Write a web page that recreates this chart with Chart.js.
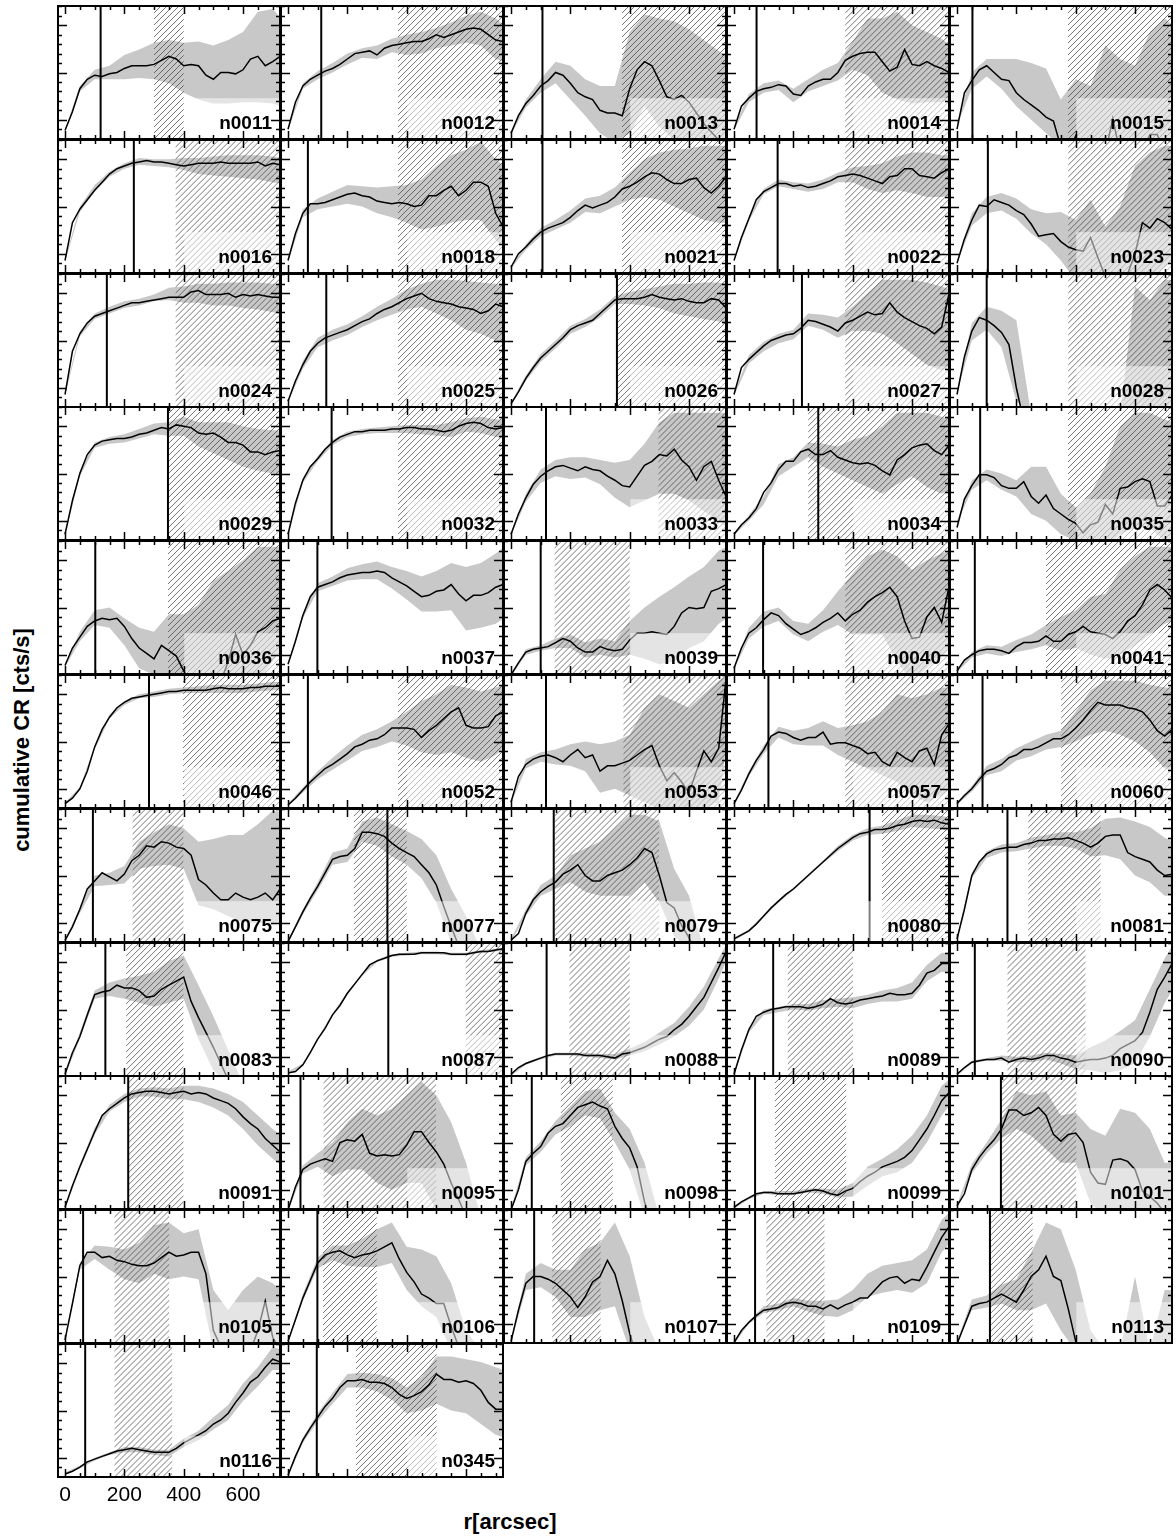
<!DOCTYPE html>
<html><head><meta charset="utf-8">
<script src="https://cdn.jsdelivr.net/npm/chart.js@4.4.1/dist/chart.umd.min.js"></script>
<style>
html,body{margin:0;padding:0;background:#fff;}
#wrap{position:relative;width:1176px;height:1537px;background:#fff;overflow:hidden;}
#wrap canvas{position:absolute;}
.t{position:absolute;font-family:"Liberation Sans",Arial,sans-serif;font-weight:bold;font-size:22px;color:#000;white-space:nowrap;}
</style></head><body><div id="wrap"></div>
<script>
// ---------- data ----------
const PANELS = ['n0011','n0012','n0013','n0014','n0015',
 'n0016','n0018','n0021','n0022','n0023',
 'n0024','n0025','n0026','n0027','n0028',
 'n0029','n0032','n0033','n0034','n0035',
 'n0036','n0037','n0039','n0040','n0041',
 'n0046','n0052','n0053','n0057','n0060',
 'n0075','n0077','n0079','n0080','n0081',
 'n0083','n0087','n0088','n0089','n0090',
 'n0091','n0095','n0098','n0099','n0101',
 'n0105','n0106','n0107','n0109','n0113',
 'n0116','n0345'];
// radius grid of the curves and of the error band [arcsec]
const R = [0,25,50,75,100,125,150,175,200,225,250,275,300,325,350,375,400,425,450,475,500,525,550,575,600,625,650,675,700,725];
const BR = [0,50,100,150,200,250,300,350,400,450,500,550,600,650,700,728];
// vertical marker radius per panel
const VLINE = [120,112,106,76,52, 232,67,106,147,104, 141,129,357,229,100, 347,147,118,284,78,
 102,99,100,98,60, 283,67,118,116,86, 94,335,144,457,170, 136,338,120,132,60,
 213,42,70,71,148, 61,99,78,71,111, 68,97];
// hatched background interval per panel (null = none)
const HATCH_FROM = [300,371,374,375,374, 373,371,374,375,375, 373,371,357,375,375, 347,371,497,250,374,
 347,null,147,375,300, 398,371,379,375,351, 228,222,147,499,240, 206,599,197,181,170,
 213,120,168,138,150, 167,118,139,109,114, 167,229];
const HATCH_TO = [400,728,728,728,728, 728,728,728,728,728, 728,728,728,728,728, 728,728,728,728,728,
 728,null,400,728,728, 728,728,728,728,728, 399,400,499,728,484, 399,728,400,401,433,
 399,499,343,378,402, 351,299,302,305,255, 361,501];
// cumulative count rate, in % of each panel's y range, at R
const CURVE_Y = [
 [7,21,38,45,48,47,49,50,53,55,55,55,56,59,62,60,55,56,55,48,45,50,50,49,52,60,62,55,58,62],
 [8,28,40,45,48,51,53,56,60,64,65,66,63,68,70,71,72,73,73,75,78,76,78,80,82,83,82,78,74,73],
 [5,18,27,33,40,44,50,48,42,35,32,30,22,20,20,18,38,52,58,55,44,32,30,33,28,20,12,6,0,-5],
 [8,25,31,36,38,39,41,40,34,33,40,43,45,45,50,59,62,64,65,65,58,51,54,67,56,55,58,55,53,50],
 [8,35,44,52,55,50,45,44,35,30,26,22,17,14,-5,-10,3,-10,-10,-10,-10,16,-10,-10,-10,-10,4,4,-10,-10],
 [10,38,48,55,62,68,74,78,80,82,83,84,83,83,82,81,80,81,82,82,82,83,82,82,82,82,83,80,82,81],
 [10,30,45,52,52,53,55,57,59,60,58,57,54,53,52,53,52,50,51,58,58,62,65,58,62,68,68,65,45,35],
 [5,15,20,26,31,34,36,38,42,47,51,49,51,53,57,63,65,68,72,75,74,70,67,67,70,71,64,60,65,72],
 [10,27,41,55,61,64,67,67,65,66,64,65,67,69,72,73,74,73,71,69,67,72,73,78,78,73,72,71,75,78],
 [8,26,40,51,50,55,53,51,47,44,37,28,29,30,24,20,18,17,27,12,-2,-5,-5,0,15,38,34,41,38,33],
 [10,42,55,63,68,70,72,74,76,78,78,79,80,81,82,82,82,86,87,84,84,84,85,82,84,83,84,83,82,82],
 [5,20,32,42,48,52,54,56,58,61,64,66,70,73,75,78,81,83,85,81,79,78,77,75,74,73,70,72,77,75],
 [3,12,22,30,37,42,47,52,58,61,63,65,70,75,80,81,81,81,82,84,82,81,80,81,79,78,78,81,80,74],
 [10,30,36,41,46,50,52,54,55,59,65,64,62,60,57,63,65,68,71,69,70,78,71,67,64,61,59,55,60,85],
 [10,38,57,67,65,61,56,47,15,-10,-10,-10,-10,-10,-10,-10,-10,-10,-10,-10,-10,-10,-10,-10,-10,-10,-10,-10,-10,-10],
 [5,30,50,64,71,74,75,76,76,77,79,80,82,84,83,86,85,84,80,79,80,77,73,73,71,66,66,64,66,67],
 [5,28,45,55,61,68,73,77,79,81,81,82,82,82,83,83,84,84,83,83,82,81,82,85,87,88,87,84,83,84],
 [5,20,32,42,48,52,55,56,54,52,55,53,52,48,45,41,40,48,56,59,64,63,68,60,55,45,55,59,45,33],
 [5,12,17,24,36,43,53,59,59,66,68,64,64,67,62,60,58,57,58,56,52,49,60,64,69,71,72,67,64,71],
 [10,31,41,49,49,47,41,39,39,44,33,28,34,24,20,16,13,6,12,14,27,20,39,40,44,46,44,26,26,34],
 [7,20,28,36,40,42,41,42,36,27,20,16,12,22,18,14,3,-5,-5,-5,-5,-5,10,30,15,22,32,35,40,42],
 [8,25,44,58,65,67,69,72,74,75,76,76,77,76,72,69,66,62,58,59,62,63,67,60,55,59,59,61,65,67],
 [0,9,17,19,20,21,24,27,25,20,17,17,21,19,18,19,26,31,31,32,31,30,36,46,50,49,50,62,64,67],
 [5,20,31,35,41,46,44,38,34,30,32,35,39,42,46,40,45,48,54,58,61,65,58,40,27,28,43,50,39,66],
 [3,11,15,18,19,19,18,16,21,24,24,25,29,25,25,30,32,36,32,31,30,27,32,40,44,52,63,67,63,57],
 [4,8,15,28,46,59,68,75,79,82,83,84,85,86,87,87,88,88,88,88,89,90,89,89,89,90,90,91,91,91],
 [3,8,14,20,25,30,33,37,41,46,48,51,52,55,60,60,60,59,53,58,62,67,72,75,62,60,60,61,69,72],
 [5,24,33,37,39,40,38,35,40,44,38,40,28,32,32,34,36,40,44,47,32,21,27,20,12,28,43,35,45,97],
 [4,14,26,36,44,54,57,56,53,51,53,53,57,48,49,49,47,45,41,42,35,32,42,38,35,43,45,33,55,63],
 [4,10,15,22,28,30,33,38,40,44,44,46,49,52,52,55,60,66,73,79,77,77,77,75,74,72,66,58,54,59],
 [2,12,25,40,46,52,49,46,51,61,65,72,71,75,74,71,70,65,47,43,37,32,32,37,34,32,34,37,32,40],
 [1,12,23,33,42,52,62,64,65,70,82,82,81,79,74,70,67,64,58,52,43,27,12,-2,-10,-10,-10,-10,-10,-10],
 [2,7,22,32,38,42,45,51,54,58,50,46,46,50,52,54,58,63,70,67,50,30,26,13,4,-8,-10,-10,-10,-10],
 [3,6,9,14,20,26,31,36,40,45,50,55,60,65,70,74,78,81,82,84,84,85,87,88,90,91,90,91,89,88],
 [3,25,50,60,66,69,70,71,71,73,74,76,76,77,77,78,76,74,71,74,79,80,80,67,64,62,60,54,50,51],
 [2,18,30,46,61,63,64,68,66,66,64,59,60,65,68,71,74,56,44,33,22,10,-2,-10,-10,-10,-10,-10,-10,-10],
 [3,4,9,18,28,36,46,53,62,69,76,83,86,88,90,91,91,91,92,92,92,92,91,91,91,92,93,93,94,95],
 [2,7,10,12,14,16,17,17,17,17,16,16,16,15,14,17,18,20,22,25,28,30,35,39,45,52,59,70,81,93],
 [2,20,35,45,48,50,51,52,52,52,51,52,54,58,55,54,55,57,58,59,60,62,61,61,62,68,77,79,84,84],
 [2,7,11,12,13,13,14,11,13,14,13,14,16,16,14,13,11,12,13,13,14,16,21,24,27,33,48,65,74,84],
 [2,18,32,45,58,70,75,79,83,86,87,88,88,87,86,87,88,86,87,86,83,81,79,75,69,64,60,53,48,43],
 [0,17,30,34,36,38,36,50,52,51,56,42,40,41,40,41,48,58,58,50,43,34,20,8,-5,-10,-10,-10,-10,-10],
 [0,15,36,42,47,57,62,64,70,76,78,80,77,75,62,53,46,32,6,-10,-10,-10,-10,-10,-10,-10,-10,-10,-10,-10],
 [2,6,9,12,13,13,12,12,12,13,14,15,14,12,11,14,16,21,25,28,32,34,36,39,44,52,60,70,81,87],
 [3,12,30,39,46,52,60,74,74,70,72,76,70,56,51,56,57,50,28,20,19,37,38,36,30,14,10,5,-2,-5],
 [3,30,58,68,68,64,65,62,61,59,58,58,60,64,68,65,66,68,68,52,10,-2,-5,-5,-5,-5,10,32,5,-5],
 [2,18,34,47,60,66,68,69,66,64,66,67,69,72,75,63,53,46,37,34,30,30,13,-2,-10,-10,-10,-10,-10,-10],
 [2,25,45,50,50,48,45,40,35,27,35,46,50,62,52,32,8,-10,-10,-10,-10,-10,-10,-10,-10,-10,-10,-10,-10,-10],
 [1,10,16,21,25,26,27,30,31,30,28,28,26,29,26,29,31,34,34,40,46,49,50,45,48,47,57,68,79,87],
 [0,14,28,30,31,34,37,34,31,40,50,55,65,50,47,26,2,-10,-10,-10,-10,-10,-10,-10,-10,-10,-10,-10,-10,-10],
 [3,5,8,12,14,16,18,20,21,22,21,20,19,19,19,22,26,29,32,35,40,43,48,56,63,71,75,82,88,86],
 [2,16,28,37,45,53,59,67,72,72,73,71,71,70,67,62,59,61,64,69,77,73,73,71,72,70,65,56,51,51]
];
// upper edge of the error band at BR
const BAND_HI = [
 [8,40,52,55,63,67,72,74,72,73,70,74,80,95,97,90],
 [9,42,51,57,64,68,70,75,78,80,83,87,92,95,90,85],
 [6,30,45,58,55,45,40,40,80,93,90,88,82,74,66,62],
 [9,34,42,44,38,45,52,57,73,90,90,95,85,80,75,70],
 [13,50,60,60,60,57,53,30,45,40,70,60,55,80,90,85],
 [11,50,66,76,82,86,85,85,86,86,87,88,88,88,87,86],
 [11,48,56,61,66,65,64,65,66,70,80,88,92,98,85,80],
 [6,22,34,40,47,56,58,64,75,85,90,92,93,95,95,95],
 [11,43,63,70,68,67,70,75,79,80,82,87,90,90,88,88],
 [10,45,57,60,56,48,45,46,40,55,35,50,80,90,95,95],
 [11,57,70,75,79,81,84,89,90,92,92,93,93,93,92,92],
 [6,35,52,58,62,68,75,81,88,92,95,95,94,93,92,90],
 [4,24,40,50,61,66,73,83,86,88,90,92,92,93,93,92],
 [11,39,49,55,58,70,69,67,75,85,95,95,95,93,90,88],
 [13,63,75,72,65,-5,-5,-5,-5,-5,-5,-5,90,80,95,95],
 [6,52,73,77,79,83,87,88,92,88,88,88,85,83,82,82],
 [6,47,63,75,81,83,84,85,86,86,86,88,91,92,90,90],
 [6,35,53,60,62,62,60,58,60,72,88,95,95,95,95,95],
 [6,19,33,57,62,73,72,70,75,78,85,95,95,95,92,90],
 [15,45,53,50,45,55,55,35,25,35,55,85,95,95,90,88],
 [8,32,48,50,42,35,32,45,45,52,70,77,85,95,95,95],
 [9,46,68,73,79,82,84,80,77,73,77,83,80,83,90,95],
 [1,19,22,27,30,24,27,25,40,50,58,65,73,80,92,95],
 [6,35,47,50,40,38,48,62,75,88,93,88,78,85,90,92],
 [4,17,22,21,26,30,37,43,48,58,60,78,88,95,95,95],
 [5,16,47,70,80,85,87,89,90,91,92,92,92,93,94,94],
 [4,16,28,38,47,55,59,65,72,80,85,92,90,87,90,92],
 [6,37,42,44,48,50,48,50,55,75,85,80,75,85,95,99],
 [5,28,47,61,58,60,65,60,62,65,72,85,82,85,90,90],
 [5,17,32,37,45,50,55,58,72,88,95,95,95,92,90,90],
 [3,26,50,52,57,75,82,88,85,75,77,80,80,88,98,97],
 [2,25,45,67,70,90,93,88,83,77,65,40,20,-5,-5,-5],
 [3,25,43,50,65,70,75,85,95,95,90,55,35,-5,-5,-5],
 [4,10,21,32,41,51,61,72,80,85,87,91,95,95,94,93],
 [4,52,68,73,74,78,80,82,82,85,92,93,90,86,78,75],
 [3,33,64,70,73,75,78,86,90,68,45,20,-5,-5,-5,-5],
 [4,10,29,47,63,77,87,91,92,93,93,92,92,94,95,96],
 [3,11,15,18,18,18,17,17,21,26,33,40,52,67,88,99],
 [3,37,50,52,54,54,57,58,59,61,64,66,70,83,92,92],
 [3,12,14,16,15,16,18,17,16,22,27,34,42,65,88,98],
 [3,34,61,78,86,90,91,90,92,92,90,86,80,70,60,55],
 [1,33,42,50,65,75,70,75,85,95,85,65,35,-5,-5,-5],
 [1,39,51,66,77,88,90,72,60,35,-5,-5,-5,-5,-5,-5],
 [3,10,14,14,14,16,16,15,20,32,38,45,55,70,92,97],
 [4,34,50,67,88,85,88,70,72,60,55,75,72,60,35,35],
 [4,60,73,72,70,75,88,90,82,85,40,25,40,50,45,40],
 [3,37,64,73,73,78,85,90,72,70,65,45,10,-5,-5,-5],
 [3,52,60,55,55,70,75,90,65,20,-5,-5,-5,-5,-5,-5],
 [2,17,28,30,34,32,32,33,40,52,58,60,62,70,92,98],
 [2,33,36,44,48,68,90,85,55,10,-5,-5,50,-5,40,40],
 [4,9,15,19,23,23,21,21,29,35,45,54,70,82,97,95],
 [3,30,48,63,77,78,77,74,67,75,90,90,88,86,82,80]
];
// lower edge of the error band at BR
const BAND_LO = [
 [6,36,45,45,45,46,45,42,35,30,27,27,28,28,27,25],
 [7,38,45,50,56,61,60,65,63,64,68,70,72,70,60,58],
 [4,24,35,42,30,18,5,-2,5,25,10,0,-5,-5,-5,-5],
 [7,28,35,37,28,36,40,44,52,48,35,30,27,28,28,30],
 [11,38,47,38,25,15,5,-5,-5,-5,-5,-5,-5,-5,-5,-5],
 [9,46,61,72,78,81,80,79,77,74,73,72,71,70,68,67],
 [9,42,48,50,52,50,45,42,38,33,35,38,40,40,25,20],
 [4,18,28,33,38,46,45,50,55,57,55,50,45,40,38,38],
 [9,39,59,65,63,61,63,68,68,63,60,62,60,57,57,58],
 [8,36,45,47,41,30,22,10,-5,-5,-5,-5,-5,-5,5,10],
 [9,53,66,70,74,76,79,80,78,78,76,76,74,73,71,70],
 [4,29,45,50,54,60,65,69,73,75,70,65,58,55,50,48],
 [2,20,34,44,55,60,67,77,77,76,74,70,68,66,64,62],
 [9,33,42,48,51,61,58,52,57,57,55,48,40,32,28,30],
 [11,50,58,45,5,-5,-5,-5,-5,-5,-5,-5,0,-5,-5,-5],
 [4,48,69,72,73,76,79,78,78,70,65,60,55,52,50,50],
 [4,43,59,71,77,79,80,80,80,79,78,77,81,80,77,76],
 [4,29,43,48,46,47,42,32,25,30,35,35,30,22,15,10],
 [4,15,27,48,55,62,55,50,45,40,35,42,48,40,35,38],
 [13,38,45,38,33,20,15,5,0,-5,-5,5,10,10,0,0],
 [6,25,37,35,22,5,0,-5,-5,-5,-5,-5,-5,-5,10,20],
 [7,42,62,66,70,71,71,64,56,47,47,48,33,35,38,42],
 [-1,15,18,20,20,13,15,13,15,12,8,10,20,25,38,42],
 [4,27,36,40,30,25,32,37,30,30,30,10,-5,5,15,20],
 [2,13,16,14,17,19,22,18,20,15,12,15,22,30,38,40],
 [3,14,44,67,77,82,83,85,86,86,86,86,86,87,88,88],
 [2,12,22,29,36,43,46,50,47,42,40,42,38,35,40,45],
 [4,30,35,33,32,28,12,15,10,5,0,-5,-5,0,5,50],
 [3,24,41,53,48,47,47,40,35,30,25,20,10,5,10,15],
 [3,13,25,28,36,39,44,46,50,55,58,55,50,42,30,28],
 [1,22,42,43,44,55,57,58,55,28,25,20,15,15,15,15],
 [0,21,39,58,60,75,72,64,58,48,30,0,-5,-5,-5,-5],
 [1,20,35,40,45,38,35,35,35,45,30,5,-5,-5,-5,-5],
 [2,8,19,30,39,49,59,68,76,80,81,83,86,85,84,83],
 [2,48,63,67,68,70,72,72,70,64,65,62,50,45,35,35],
 [1,28,58,60,58,55,52,55,58,28,5,-5,-5,-5,-5,-5],
 [2,8,27,45,61,75,85,89,90,91,91,90,90,92,93,94],
 [1,9,13,16,16,15,14,13,16,19,24,30,38,50,73,87],
 [1,33,46,48,50,49,51,52,51,54,56,56,58,71,78,77],
 [1,10,12,12,11,11,13,10,6,5,3,5,10,30,55,65],
 [1,30,56,73,80,84,84,82,82,80,76,70,60,48,38,33],
 [-1,27,32,25,30,30,20,15,20,20,0,-5,-5,-5,-5,-5],
 [-1,33,43,56,62,70,68,50,30,-5,-5,-5,-5,-5,-5,-5],
 [1,8,12,11,11,13,12,9,10,18,25,28,35,50,70,78],
 [2,27,42,53,60,55,45,35,35,5,-5,-5,-5,-5,-5,-5],
 [2,55,63,55,48,45,52,48,50,48,-5,-5,-5,-5,-5,-5],
 [1,32,56,62,58,57,57,60,40,28,20,-5,-5,-5,-5,-5],
 [1,40,42,35,20,20,25,28,-5,-5,-5,-5,-5,-5,-5,-5],
 [0,15,23,25,28,24,21,20,25,35,38,40,38,45,68,75],
 [0,25,27,30,25,25,30,10,-5,-5,-5,-5,-5,-5,-5,-5],
 [2,7,13,17,19,19,17,16,23,28,36,43,57,68,80,80],
 [1,26,42,55,67,67,64,58,48,50,55,50,48,40,32,30]
];
const X_TICK_LABELS = [0,200,400,600];
const X_TICKS = [0,50,100,150,200,250,300,350,400,450,500,550,600,650,700];
const Y_TICKS = [1,8,15,22,29,36,43,50,57,64,71,78,85,92,99];
const Y_MAJOR = [15,50,85];
const LABEL_PANEL = 'n0116';

// ---------- layout ----------
const NCOL = 5, X0 = 57, Y0 = 5, CW = 223, RH = 133.8;
const XMIN = -27, XMAX = 728;
const BOX_FROM = 402, BOX_TOP = 31;
const FONT = '"Liberation Sans", Arial, sans-serif';
const CURVE_INDEX = 2;

const panelPlugin = {
  id: 'panel',
  beforeDatasetDraw(chart, args) {
    if (args.index !== CURVE_INDEX) return;
    const i = chart.options.plugins.panel.idx;
    if (HATCH_FROM[i] == null) return;
    const {ctx, chartArea: a, scales: {x}} = chart;
    const x0 = Math.max(a.left, x.getPixelForValue(HATCH_FROM[i]));
    const x1 = Math.min(a.right, x.getPixelForValue(HATCH_TO[i]));
    const h = a.bottom - a.top;
    ctx.save();
    ctx.beginPath(); ctx.rect(x0, a.top, x1 - x0, h); ctx.clip();
    ctx.strokeStyle = 'rgba(60,60,60,0.7)'; ctx.lineWidth = 1;
    ctx.beginPath();
    for (let s = x0 - h - 10; s < x1 + 10; s += 6) {
      ctx.moveTo(s, a.bottom); ctx.lineTo(s + h, a.top);
    }
    ctx.stroke(); ctx.restore();
  },
  afterDatasetsDraw(chart) {
    const i = chart.options.plugins.panel.idx;
    const {ctx, chartArea: a, scales: {x, y}} = chart;
    ctx.save();
    ctx.beginPath(); ctx.rect(a.left, a.top, a.right - a.left, a.bottom - a.top); ctx.clip();
    // vertical marker
    const vx = x.getPixelForValue(VLINE[i]);
    ctx.strokeStyle = '#000'; ctx.lineWidth = 2;
    ctx.beginPath(); ctx.moveTo(vx, a.top); ctx.lineTo(vx, a.bottom); ctx.stroke();
    // translucent label box
    const bx = x.getPixelForValue(BOX_FROM), by = y.getPixelForValue(BOX_TOP);
    ctx.fillStyle = 'rgba(255,255,255,0.5)';
    ctx.fillRect(bx, by, a.right - bx, a.bottom - by);
    // panel name
    ctx.fillStyle = '#000';
    ctx.font = 'bold 19px ' + FONT;
    ctx.textAlign = 'right'; ctx.textBaseline = 'alphabetic';
    ctx.fillText(PANELS[i], a.right - 9, a.bottom - 11);
    // ticks
    ctx.strokeStyle = '#000'; ctx.lineWidth = 1.5;
    ctx.beginPath();
    X_TICKS.forEach(v => {
      const px = Math.round(x.getPixelForValue(v)) + 0.5;
      const L = (v % 200 === 0) ? 9 : 5;
      ctx.moveTo(px, a.top); ctx.lineTo(px, a.top + L);
      ctx.moveTo(px, a.bottom); ctx.lineTo(px, a.bottom - L);
    });
    Y_TICKS.forEach(v => {
      const py = Math.round(y.getPixelForValue(v)) + 0.5;
      const L = Y_MAJOR.includes(v) ? 10 : 5;
      ctx.moveTo(a.left, py); ctx.lineTo(a.left + L, py);
      ctx.moveTo(a.right, py); ctx.lineTo(a.right - L, py);
    });
    ctx.stroke();
    // frame
    ctx.lineWidth = 2;
    ctx.strokeRect(a.left + 1, a.top + 1, a.right - a.left - 2, a.bottom - a.top - 2);
    ctx.restore();
  }
};

const wrap = document.getElementById('wrap');
PANELS.forEach((name, i) => {
  const r = Math.floor(i / NCOL), c = i % NCOL;
  const withLabels = name === LABEL_PANEL;
  const cv = document.createElement('canvas');
  const W = 224, H = 135 + (withLabels ? 34 : 0);
  cv.width = W; cv.height = H;
  cv.style.width = W + 'px'; cv.style.height = H + 'px';
  cv.style.left = (X0 + CW * c) + 'px';
  cv.style.top = Math.round(Y0 + RH * r) + 'px';
  wrap.appendChild(cv);
  const xScale = {type: 'linear', min: XMIN, max: XMAX, display: false};
  if (withLabels) {
    Object.assign(xScale, {
      display: true,
      grid: {display: false, drawTicks: false, tickLength: 0},
      border: {display: false},
      ticks: {color: '#000', font: {family: FONT, size: 21}, padding: 5, maxRotation: 0, autoSkip: false},
      afterBuildTicks: s => { s.ticks = X_TICK_LABELS.map(v => ({value: v})); },
      afterFit: s => { s.height = 34; s.paddingLeft = 0; s.paddingRight = 0; }
    });
  }
  new Chart(cv, {
    type: 'line',
    data: {datasets: [
      {data: BR.map((v, k) => ({x: v, y: BAND_HI[i][k]})), borderColor: 'rgba(0,0,0,0)', borderWidth: 0,
       pointRadius: 0, fill: '+1', backgroundColor: '#c8c8c8', tension: 0, order: 2},
      {data: BR.map((v, k) => ({x: v, y: BAND_LO[i][k]})), borderColor: 'rgba(0,0,0,0)', borderWidth: 0,
       pointRadius: 0, fill: false, tension: 0, order: 3},
      {data: R.map((v, k) => ({x: v, y: CURVE_Y[i][k]})), borderColor: '#000', borderWidth: 1.5,
       pointRadius: 0, fill: false, tension: 0, order: 0}
    ]},
    options: {
      responsive: false, animation: false, devicePixelRatio: 1, events: [],
      layout: {padding: 0},
      scales: {x: xScale, y: {type: 'linear', min: 0, max: 100, display: false}},
      plugins: {legend: {display: false}, tooltip: {enabled: false}, panel: {idx: i}}
    },
    plugins: [panelPlugin]
  });
});

// axis titles
const yt = document.createElement('div');
yt.className = 't'; yt.textContent = 'cumulative CR [cts/s]';
yt.style.left = '22px'; yt.style.top = '740px';
yt.style.transform = 'translate(-50%,-50%) rotate(-90deg)';
wrap.appendChild(yt);
const xt = document.createElement('div');
xt.className = 't'; xt.textContent = 'r[arcsec]';
xt.style.left = '510px'; xt.style.top = '1522px';
xt.style.transform = 'translate(-50%,-50%)';
wrap.appendChild(xt);
</script>
</body></html>
